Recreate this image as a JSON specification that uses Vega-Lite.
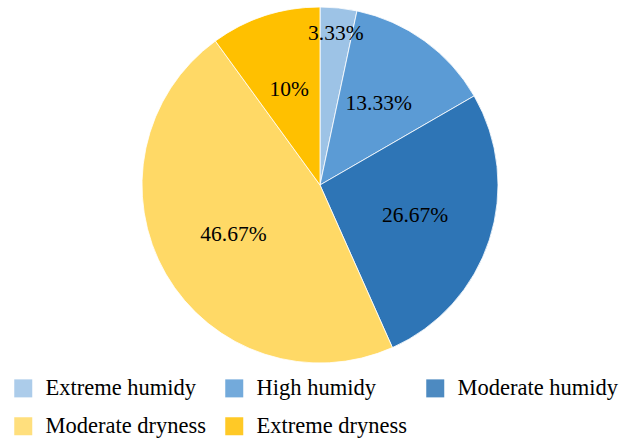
{
  "$schema": "https://vega.github.io/schema/vega-lite/v6.json",
  "width": 610,
  "height": 370,
  "autosize": "none",
  "padding": {"left": 15, "top": 0, "right": 0, "bottom": 73},
  "background": "white",
  "config": {"font": "Liberation Serif"},
  "data": {
    "values": [
      {"category": "Extreme humidy", "value": 3.33, "label": "3.33%", "order": 1},
      {"category": "High humidy", "value": 13.33, "label": "13.33%", "order": 2},
      {"category": "Moderate humidy", "value": 26.67, "label": "26.67%", "order": 3},
      {"category": "Moderate dryness", "value": 46.67, "label": "46.67%", "order": 4},
      {"category": "Extreme dryness", "value": 10, "label": "10%", "order": 5}
    ]
  },
  "encoding": {
    "theta": {"field": "value", "type": "quantitative", "stack": true},
    "order": {"field": "order", "type": "quantitative"},
    "color": {
      "field": "category",
      "type": "nominal",
      "sort": ["Extreme humidy", "High humidy", "Moderate humidy", "Moderate dryness", "Extreme dryness"],
      "scale": {
        "domain": ["Extreme humidy", "High humidy", "Moderate humidy", "Moderate dryness", "Extreme dryness"],
        "range": ["#9dc3e6", "#5b9bd5", "#2e75b6", "#ffd966", "#ffc000"]
      },
      "legend": {
        "title": null,
        "orient": "none",
        "legendX": -3,
        "legendY": 377,
        "direction": "horizontal",
        "columns": 3,
        "columnPadding": 16,
        "rowPadding": 15,
        "padding": 0,
        "symbolType": "square",
        "symbolSize": 324,
        "symbolStrokeWidth": 0,
        "symbolOpacity": 0.85,
        "labelFont": "Times New Roman",
        "labelFontSize": 22.5,
        "labelColor": "black",
        "labelOffset": 11,
        "labelLimit": 300
      }
    }
  },
  "layer": [
    {
      "mark": {"type": "arc", "outerRadius": 178, "stroke": "white", "strokeWidth": 0.8}
    },
    {
      "mark": {"type": "text", "radius": 152, "font": "Times New Roman", "fontSize": 21.5, "color": "black"},
      "encoding": {
        "text": {"field": "label"},
        "color": {"value": "black"},
        "opacity": {"condition": {"test": "datum.category === 'Extreme humidy'", "value": 1}, "value": 0}
      }
    },
    {
      "mark": {"type": "text", "radius": 100, "font": "Times New Roman", "fontSize": 21.5, "color": "black"},
      "encoding": {
        "text": {"field": "label"},
        "color": {"value": "black"},
        "opacity": {"condition": {"test": "datum.category !== 'Extreme humidy'", "value": 1}, "value": 0}
      }
    }
  ]
}
